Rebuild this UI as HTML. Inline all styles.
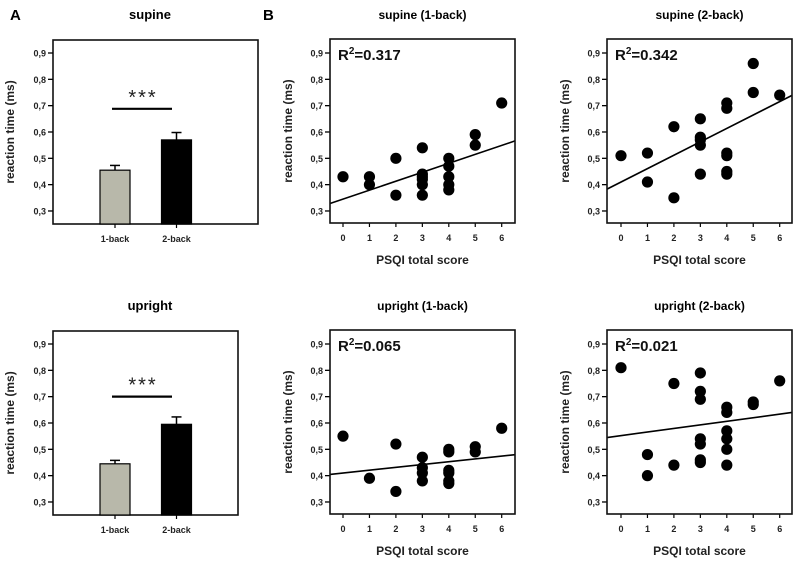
<!DOCTYPE html>
<html><head><meta charset="utf-8">
<style>
html,body{margin:0;padding:0;background:#fff;}
svg{display:block;font-family:"Liberation Sans",Arial,sans-serif;}
</style></head>
<body>
<svg id="fig" width="800" height="562" viewBox="0 0 800 562"></svg>
<script>
// ---- data ----
const barCategories = ["1-back","2-back"];
const supineMeans = [0.455, 0.570];
const supineErrors = [0.018, 0.028];
const uprightMeans = [0.445, 0.595];
const uprightErrors = [0.013, 0.028];
const yTicks = [0.3,0.4,0.5,0.6,0.7,0.8,0.9];
const yTickLabels = ["0,3","0,4","0,5","0,6","0,7","0,8","0,9"];
const xTicks = [0,1,2,3,4,5,6];

const s1x = [0,1,1,2,2,3,3,3,3,3,3,4,4,4,4,4,5,5,6];
const s1y = [.43,.43,.40,.50,.36,.54,.44,.43,.42,.40,.36,.50,.47,.43,.40,.38,.59,.55,.71];
const s1fit = [0.345, 0.034];
const s2x = [0,1,1,2,2,3,3,3,3,3,4,4,4,4,4,4,5,5,6];
const s2y = [.51,.52,.41,.62,.35,.65,.58,.57,.55,.44,.71,.69,.52,.51,.45,.44,.86,.75,.74];
const s2fit = [0.41, 0.0509];
const u1x = [0,1,2,2,3,3,3,3,4,4,4,4,4,4,5,5,6];
const u1y = [.55,.39,.52,.34,.47,.43,.41,.38,.50,.49,.42,.41,.38,.37,.51,.49,.58];
const u1fit = [0.41, 0.0107];
const u2x = [0,1,1,2,2,3,3,3,3,3,3,3,4,4,4,4,4,4,5,5,6];
const u2y = [.81,.48,.40,.75,.44,.79,.72,.69,.54,.52,.46,.45,.66,.64,.57,.54,.50,.44,.68,.67,.76];
const u2fit = [0.552, 0.0136];

const NS="http://www.w3.org/2000/svg";
const svg=document.getElementById('fig');
function el(tag,attrs,parent,text){
  const e=document.createElementNS(NS,tag);
  for(const k in attrs)e.setAttribute(k,attrs[k]);
  if(text!==undefined)e.textContent=text;
  (parent||svg).appendChild(e);return e;
}
function yScaleFor(off){ return v => 53+off + (0.9-v)*263.3; }

function yAxis(g,left,ys,ytitleX,midY){
  yTicks.forEach((t,i)=>{
    const y=ys(t);
    const tk=el('line',{x1:left-5,x2:left,y1:y,y2:y,stroke:'#000','stroke-width':1.3},g);
    
    
    const lb=el('text',{x:left-7,y:y+3.5,'text-anchor':'end','font-size':9,'font-weight':'bold',fill:'#222'},g,yTickLabels[i]);
    
    
  });
  const yt=el('text',{x:ytitleX,y:midY,'text-anchor':'middle','font-size':12,'font-weight':'bold',fill:'#222',transform:`rotate(-90 ${ytitleX} ${midY})`},g,'reaction time (ms)');
  
  
}

function barPanel(name,title,off,right,means,errs,sigV,starsY){
  const g=el('g',{},svg);
  
  
  const ys=yScaleFor(off);
  const top=40+off-(off?1:0), bottom=224+off-(off?-0:0);
  const t=el('text',{x:150,y:19+off,'text-anchor':'middle','font-size':13,'font-weight':'bold'},g,title);
  
  
  const box=el('rect',{x:53,y:40+off,width:right-53,height:184,fill:'none',stroke:'#111','stroke-width':1.6},g);
  
  
  yAxis(g,53,ys,14,132+off);
  const centers=[115,176.5], fills=['#b8b8aa','#000'];
  barCategories.forEach((c,i)=>{
    const cx=centers[i], y=ys(means[i]), yb=224+off;
    const ey=ys(means[i]+errs[i]);
    const eb=el('line',{x1:cx,x2:cx,y1:ey,y2:y,stroke:'#000','stroke-width':1.5},g);
    
    
    const ec=el('line',{x1:cx-5,x2:cx+5,y1:ey,y2:ey,stroke:'#000','stroke-width':1.5},g);
    
    
    const b=el('rect',{x:cx-15,y:y,width:30,height:yb-y,fill:fills[i],stroke:'#000','stroke-width':1.2},g);
    
    
    const tk=el('line',{x1:cx,x2:cx,y1:yb,y2:yb+4,stroke:'#000','stroke-width':1.2},g);
    
    
    const lb=el('text',{x:cx,y:242+off,'text-anchor':'middle','font-size':9,'font-weight':'bold',fill:'#222'},g,c);
    
    
  });
  const sy=ys(sigV);
  const sl=el('line',{x1:112,x2:172,y1:sy,y2:sy,stroke:'#000','stroke-width':2.2},g);
  
  
  const st=el('text',{x:143,y:sy-5,'text-anchor':'middle','font-size':20,fill:'#222','letter-spacing':'2'},g,'***');
  
  
}

function scatterPanel(name,title,off,left,right,x0,xs,yv,fit,r2){
  const g=el('g',{},svg);
  
  
  const ys=yScaleFor(off);
  const xsc=v=>x0+v*26.45;
  const top=39+off, bottom=223+off;
  const cx=(left+right)/2;
  const t=el('text',{x:cx,y:19+off,'text-anchor':'middle','font-size':12,'font-weight':'bold'},g,title);
  
  
  yAxis(g,left,ys,left-38,131+off);
  xTicks.forEach(v=>{
    const x=xsc(v);
    const tk=el('line',{x1:x,x2:x,y1:bottom,y2:bottom+4,stroke:'#000','stroke-width':1.2},g);
    
    
    const lb=el('text',{x:x,y:241+off,'text-anchor':'middle','font-size':9,'font-weight':'bold',fill:'#222'},g,String(v));
    
    
  });
  const xt=el('text',{x:cx,y:264+off,'text-anchor':'middle','font-size':12,'font-weight':'bold',fill:'#222'},g,'PSQI total score');
  
  
  xs.forEach((v,i)=>{
    const d=el('circle',{cx:xsc(v),cy:ys(yv[i]),r:5.6,fill:'#000'},g);
    
    
  });
  const xl=(left-x0)/26.45, xr=(right-x0)/26.45;
  const ln=el('line',{x1:left,x2:right,y1:ys(fit[0]+fit[1]*xl),y2:ys(fit[0]+fit[1]*xr),stroke:'#000','stroke-width':1.6},g);
  
  
  const box=el('rect',{x:left,y:top,width:right-left,height:bottom-top,fill:'none',stroke:'#111','stroke-width':1.6},g);
  
  
  const rt=el('text',{x:left+8,y:top+21,'font-size':15,'font-weight':'bold',fill:'#111'},g);
  
  
  el('tspan',{},rt,'R');
  el('tspan',{'font-size':10,dy:-6},rt,'2');
  el('tspan',{dy:6},rt,'='+r2);
}

const A=el('text',{x:10,y:20,'font-size':15,'font-weight':'bold'},svg,'A');


const B=el('text',{x:263,y:20,'font-size':15,'font-weight':'bold'},svg,'B');



barPanel('supine-bar-chart','supine',0,258,supineMeans,supineErrors,0.688);
barPanel('upright-bar-chart','upright',291,238,uprightMeans,uprightErrors,0.70);
scatterPanel('supine-1back-scatter','supine (1-back)',0,330,515,343,s1x,s1y,s1fit,'0.317');
scatterPanel('supine-2back-scatter','supine (2-back)',0,607,792,621,s2x,s2y,s2fit,'0.342');
scatterPanel('upright-1back-scatter','upright (1-back)',291,330,515,343,u1x,u1y,u1fit,'0.065');
scatterPanel('upright-2back-scatter','upright (2-back)',291,607,792,621,u2x,u2y,u2fit,'0.021');
</script>
</body></html>
